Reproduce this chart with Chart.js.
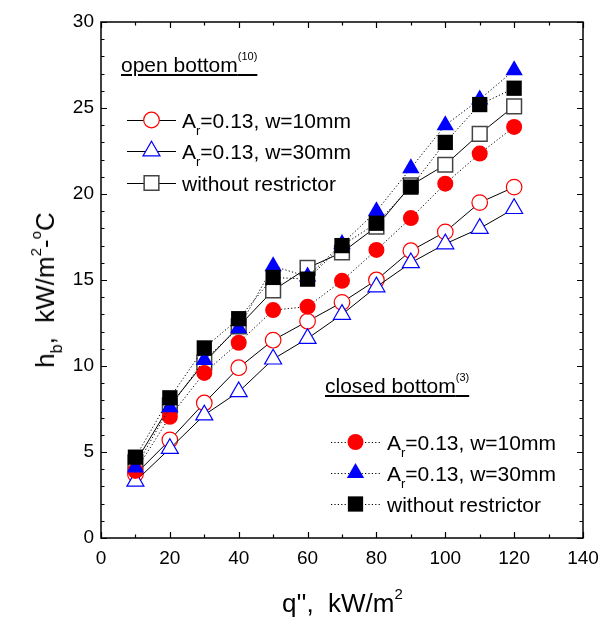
<!DOCTYPE html>
<html>
<head>
<meta charset="utf-8">
<script src="https://cdn.jsdelivr.net/npm/chart.js@4/dist/chart.umd.min.js"></script>
<style>
  html, body { margin: 0; padding: 0; background: #fff; }
  #wrap { position: relative; width: 612px; height: 619px; font-family: "Liberation Sans", Arial, sans-serif; color: #000; }
  canvas { position: absolute; left: 0; top: 0; }
  .t { position: absolute; white-space: nowrap; font-size: 21px; line-height: 1; }
  .sub { font-size: 13px; position: relative; top: 7px; }
  .supS { font-size: 11px; position: relative; top: -12px; }
  .ax { font-size: 26px; }
  .ax .sub { font-size: 16px; top: 8px; }
  .ax .sup { font-size: 15px; position: relative; top: -13px; }
  .u { text-decoration: underline; text-decoration-thickness: 2px; text-underline-offset: 2px; }
</style>
</head>
<body>
<div id="wrap">
  <canvas id="c" width="612" height="619"></canvas>
  <div class="t u" style="left:121px; top:54px;">open bottom<span class="supS">(10)</span></div>
  <div class="t" style="left:182px; top:110px;">A<span class="sub">r</span>=0.13, w=10mm</div>
  <div class="t" style="left:182px; top:141px;">A<span class="sub">r</span>=0.13, w=30mm</div>
  <div class="t" style="left:182px; top:173px;">without restrictor</div>
  <div class="t u" style="left:325px; top:375px;">closed bottom<span class="supS">(3)</span></div>
  <div class="t" style="left:387px; top:432px;">A<span class="sub">r</span>=0.13, w=10mm</div>
  <div class="t" style="left:387px; top:463px;">A<span class="sub">r</span>=0.13, w=30mm</div>
  <div class="t" style="left:387px; top:494px;">without restrictor</div>
  <div class="t ax" style="left:282px; top:590px;">q'',&nbsp; kW/m<span class="sup">2</span></div>
  <div class="t ax" style="left:45px; top:290px; transform: translate(-50%,-50%) rotate(-90deg); transform-origin: center;">h<span class="sub">b</span>,&nbsp; kW/m<span class="sup">2</span>-<span class="sup">o</span>C</div>
</div>
<script>
const q = [10, 20, 30, 40, 50, 60, 70, 80, 90, 100, 110, 120];
const openW10   = [3.7, 5.7, 7.85, 9.9, 11.5, 12.6, 13.7, 15.0, 16.7, 17.8, 19.5, 20.4];
const openW30   = [3.3, 5.2, 7.15, 8.5, 10.4, 11.6, 13.0, 14.6, 16.0, 17.1, 18.0, 19.15];
const openNone  = [4.4, 7.7, 10.2, 12.3, 14.4, 15.7, 16.6, 18.1, 20.5, 21.7, 23.5, 25.1];
const closedW10 = [3.9, 7.05, 9.6, 11.35, 13.25, 13.45, 14.95, 16.75, 18.6, 20.6, 22.35, 23.9];
const closedW30 = [4.1, 7.6, 10.35, 12.2, 15.8, 15.2, 17.1, 19.0, 21.5, 24.0, 25.5, 27.2];
const closedNone= [4.7, 8.15, 11.05, 12.75, 15.15, 15.05, 17.0, 18.3, 20.4, 23.0, 25.2, 26.15];
const xTicks = [0, 20, 40, 60, 80, 100, 120, 140];
const yTicks = [0, 5, 10, 15, 20, 25, 30];

const pts = arr => arr.map((v, i) => ({ x: q[i], y: v }));

const styles = {
  openCircle:   { pointStyle: 'circle',   radius: 7.8, fill: '#fff', stroke: '#ff0000', bw: 1.2 },
  openTri:      { pointStyle: 'triangle', radius: 9.8, fill: '#fff', stroke: '#0000ff', bw: 1.2 },
  openSquare:   { pointStyle: 'rect',     radius: 10.4, fill: '#fff', stroke: '#444', bw: 1.5 },
  fillCircle:   { pointStyle: 'circle',   radius: 8, fill: '#ff0000', stroke: '#ff0000', bw: 0 },
  fillTri:      { pointStyle: 'triangle', radius: 10, fill: '#0000ff', stroke: '#0000ff', bw: 0 },
  fillSquare:   { pointStyle: 'rect',     radius: 10.8, fill: '#000', stroke: '#000', bw: 0 }
};
const dotted = [1.2, 2.2];

function ds(label, data, st, dash) {
  return {
    label, data: pts(data), showLine: true,
    borderColor: '#000', borderWidth: 1, borderDash: dash || [],
    pointStyle: st.pointStyle, pointRadius: st.radius, pointHoverRadius: st.radius,
    pointBackgroundColor: st.fill, pointBorderColor: st.stroke, pointBorderWidth: st.bw,
    tension: 0
  };
}

const legendItems = [
  { x1: 127, x2: 176, y: 120, st: styles.openCircle, dash: [] },
  { x1: 127, x2: 176, y: 151, st: styles.openTri, dash: [] },
  { x1: 127, x2: 176, y: 183, st: styles.openSquare, dash: [] },
  { x1: 331, x2: 380, y: 442, st: styles.fillCircle, dash: dotted },
  { x1: 331, x2: 380, y: 473, st: styles.fillTri, dash: dotted },
  { x1: 331, x2: 380, y: 504, st: styles.fillSquare, dash: dotted }
];

const framePlugin = {
  id: 'frame',
  beforeDatasetsDraw(chart) {
    const { ctx, chartArea: a, scales: { x, y } } = chart;
    ctx.save();
    ctx.strokeStyle = '#000';
    ctx.lineWidth = 1.5;
    ctx.strokeRect(a.left, a.top, a.right - a.left, a.bottom - a.top);
    ctx.lineWidth = 1.2;
    ctx.beginPath();
    for (let v = 0; v <= 140; v += 10) {
      const px = Math.round(x.getPixelForValue(v)) + 0.5;
      const L = (v % 20 === 0) ? 6 : 3.5;
      ctx.moveTo(px, a.bottom); ctx.lineTo(px, a.bottom - L);
      ctx.moveTo(px, a.top); ctx.lineTo(px, a.top + L);
    }
    for (let v = 0; v <= 30; v += 1) {
      const py = Math.round(y.getPixelForValue(v)) + 0.5;
      const L = (v % 5 === 0) ? 6 : 3.5;
      ctx.moveTo(a.left, py); ctx.lineTo(a.left + L, py);
      ctx.moveTo(a.right, py); ctx.lineTo(a.right - L, py);
    }
    ctx.stroke();
    ctx.restore();
  },
  afterDraw(chart) {
    const ctx = chart.ctx;
    ctx.save();
    for (const it of legendItems) {
      ctx.strokeStyle = '#000';
      ctx.lineWidth = 1;
      ctx.setLineDash(it.dash);
      ctx.beginPath();
      ctx.moveTo(it.x1, it.y + 0.5); ctx.lineTo(it.x2, it.y + 0.5);
      ctx.stroke();
      ctx.setLineDash([]);
      ctx.fillStyle = it.st.fill;
      ctx.strokeStyle = it.st.stroke;
      ctx.lineWidth = it.st.bw;
      Chart.helpers.drawPoint(ctx, { pointStyle: it.st.pointStyle, radius: it.st.radius, rotation: 0, borderWidth: it.st.bw }, (it.x1 + it.x2) / 2, it.y);
    }
    ctx.restore();
  }
};

new Chart(document.getElementById('c'), {
  type: 'scatter',
  data: {
    datasets: [
      ds('closed none', closedNone, styles.fillSquare, dotted),
      ds('closed w30', closedW30, styles.fillTri, dotted),
      ds('closed w10', closedW10, styles.fillCircle, dotted),
      ds('open none', openNone, styles.openSquare),
      ds('open w30', openW30, styles.openTri),
      ds('open w10', openW10, styles.openCircle)
    ]
  },
  options: {
    responsive: false,
    animation: false,
    devicePixelRatio: 1,
    layout: { padding: { top: 22, right: 29, left: 0, bottom: 0 } },
    plugins: { legend: { display: false }, tooltip: { enabled: false } },
    scales: {
      x: {
        type: 'linear', min: 0, max: 140,
        afterBuildTicks: s => { s.ticks = xTicks.map(v => ({ value: v })); },
        afterFit: s => { s.height = 81; },
        ticks: { color: '#000', font: { family: '"Liberation Sans", Arial', size: 19 }, padding: 9, maxRotation: 0 },
        grid: { display: false, drawTicks: false },
        border: { display: false }
      },
      y: {
        type: 'linear', min: 0, max: 30,
        afterBuildTicks: s => { s.ticks = yTicks.map(v => ({ value: v })); },
        afterFit: s => { s.width = 101; },
        ticks: { color: '#000', font: { family: '"Liberation Sans", Arial', size: 19 }, padding: 7 },
        grid: { display: false, drawTicks: false },
        border: { display: false }
      }
    }
  },
  plugins: [framePlugin]
});
</script>
</body>
</html>
